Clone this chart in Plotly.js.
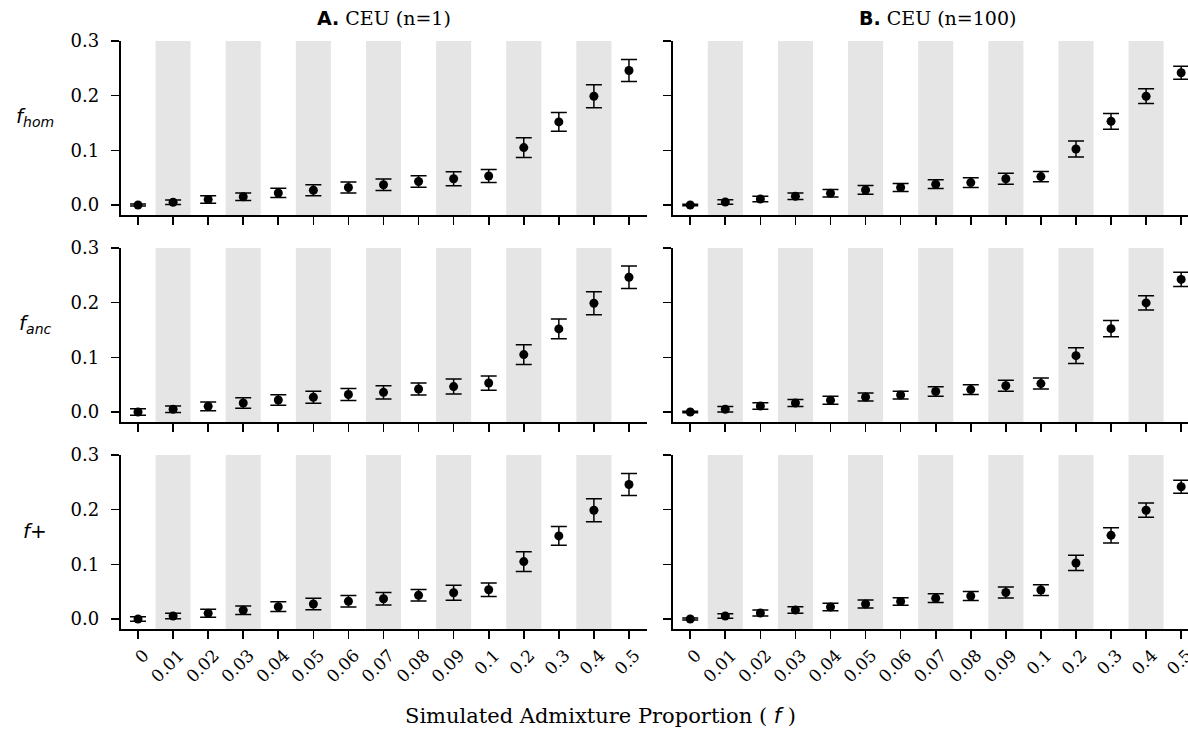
<!DOCTYPE html>
<html>
<head>
<meta charset="utf-8">
<script src="https://cdn.plot.ly/plotly-3.0.1.min.js"></script>
<style>html,body{margin:0;padding:0;background:#fff;}#chart{width:1188px;height:734px;}</style>
</head>
<body>
<div id="chart"></div>
<script>
// ---- data ----
const categories = ['0','0.01','0.02','0.03','0.04','0.05','0.06','0.07','0.08','0.09','0.1','0.2','0.3','0.4','0.5'];
const panelTitles = ['<b style="font-family:DejaVu Sans">A.</b> CEU (n=1)', '<b style="font-family:DejaVu Sans">B.</b> CEU (n=100)'];
const rowLabels = ['<i>f</i><sub><i>hom</i></sub>', '<i>f</i><sub><i>anc</i></sub>', '<i>f</i>+'];
const yTickVals = [0, 0.1, 0.2, 0.3];
const yTickText = ['0.0', '0.1', '0.2', '0.3'];

const A_hom_mean = [0.000,0.005,0.010,0.015,0.022,0.027,0.032,0.037,0.043,0.048,0.053,0.105,0.152,0.199,0.246];
const A_hom_err  = [0.002,0.004,0.007,0.007,0.0085,0.010,0.010,0.0105,0.0105,0.013,0.012,0.018,0.017,0.021,0.020];
const B_hom_mean = [0.000,0.0055,0.011,0.016,0.0215,0.0275,0.032,0.038,0.041,0.048,0.052,0.1025,0.153,0.199,0.242];
const B_hom_err  = [0.0012,0.004,0.005,0.006,0.007,0.008,0.0075,0.008,0.009,0.010,0.0095,0.0145,0.0145,0.0135,0.012];
const A_anc_mean = [0.000,0.005,0.0105,0.0165,0.022,0.027,0.032,0.036,0.042,0.0465,0.053,0.105,0.152,0.199,0.2465];
const A_anc_err  = [0.006,0.006,0.008,0.0095,0.0095,0.011,0.011,0.012,0.011,0.0138,0.013,0.018,0.018,0.021,0.0205];
const B_anc_mean = [0.000,0.005,0.011,0.0165,0.0215,0.0275,0.031,0.0375,0.041,0.048,0.052,0.103,0.1525,0.1995,0.2425];
const B_anc_err  = [0.0015,0.005,0.006,0.0065,0.0074,0.0074,0.007,0.0086,0.009,0.010,0.010,0.0144,0.015,0.013,0.013];
const A_plus_mean = [0.000,0.0055,0.0105,0.016,0.0225,0.0275,0.0325,0.037,0.0435,0.048,0.0535,0.105,0.152,0.199,0.246];
const A_plus_err  = [0.004,0.005,0.0074,0.008,0.009,0.0104,0.0107,0.0113,0.0104,0.0138,0.0123,0.018,0.017,0.021,0.020];
const B_plus_mean = [0.000,0.0055,0.011,0.0165,0.022,0.0275,0.032,0.038,0.042,0.0485,0.053,0.1025,0.153,0.199,0.242];
const B_plus_err  = [0.002,0.004,0.0055,0.006,0.0067,0.0074,0.007,0.008,0.0083,0.010,0.0098,0.014,0.014,0.013,0.012];

const series = [
  [A_hom_mean, A_hom_err, B_hom_mean, B_hom_err],
  [A_anc_mean, A_anc_err, B_anc_mean, B_anc_err],
  [A_plus_mean, A_plus_err, B_plus_mean, B_plus_err]
];

// ---- layout geometry (px) ----
const W = 1188, H = 734;
const colPx = [[120.5, 646.5], [672.7, 1188]];
const rowPx = [[41, 215], [248, 422], [455, 629]];
const pxPerCat = (colPx[0][1] - colPx[0][0]) / categories.length;
const xRanges = [[-0.5, categories.length - 0.5],
                 [-0.5, -0.5 + (colPx[1][1] - colPx[1][0]) / pxPerCat]];
const yRange = [-0.0183, 0.3];

const serif = 'DejaVu Serif, serif';
const sans = 'DejaVu Sans, sans-serif';

const data = [];
const layout = {
  width: W, height: H,
  margin: {l: 0, r: 0, t: 0, b: 0},
  paper_bgcolor: '#fff', plot_bgcolor: 'rgba(0,0,0,0)',
  showlegend: false,
  font: {family: serif, color: '#000'},
  shapes: [], annotations: []
};

for (let r = 0; r < 3; r++) {
  for (let c = 0; c < 2; c++) {
    const k = r * 2 + c + 1;
    const xa = 'x' + (k === 1 ? '' : k), ya = 'y' + (k === 1 ? '' : k);
    const mean = series[r][c * 2], err = series[r][c * 2 + 1];
    data.push({
      type: 'scatter', mode: 'markers', x: categories, y: mean,
      xaxis: xa, yaxis: ya,
      marker: {color: '#000', size: 9},
      error_y: {type: 'data', array: err, visible: true, color: '#000', thickness: 1.5, width: 8},
      cliponaxis: true, hoverinfo: 'skip'
    });
    layout['xaxis' + (k === 1 ? '' : k)] = {
      type: 'category', categoryorder: 'array', categoryarray: categories,
      domain: [colPx[c][0] / W, colPx[c][1] / W], range: xRanges[c],
      anchor: ya, showline: true, linecolor: '#000', linewidth: 1.8,
      ticks: 'outside', ticklen: 8, tickwidth: 1.6, tickcolor: '#000',
      showgrid: false, zeroline: false, fixedrange: true,
      showticklabels: r === 2, tickangle: -45, ticklabelshift: 6,
      tickfont: {family: serif, size: 17, color: '#000'}
    };
    layout['yaxis' + (k === 1 ? '' : k)] = {
      domain: [1 - rowPx[r][1] / H, 1 - rowPx[r][0] / H], range: yRange,
      anchor: xa, showline: true, linecolor: '#000', linewidth: 1.8,
      ticks: 'outside', ticklen: 8, tickwidth: 1.6, tickcolor: '#000',
      tickvals: yTickVals, ticktext: yTickText, ticklabelstandoff: 8,
      showgrid: false, zeroline: false, fixedrange: true,
      showticklabels: c === 0,
      tickfont: {family: serif, size: 18, color: '#000'}
    };
    // alternating grey bands
    for (let i = 0; i < categories.length; i++) {
      if (i % 2 === 1) {
        layout.shapes.push({
          type: 'rect', xref: xa, yref: ya + ' domain',
          x0: i - 0.5, x1: i + 0.5, y0: 0, y1: 1,
          fillcolor: '#e5e5e5', line: {width: 0}, layer: 'below'
        });
      }
    }
  }
  // row labels
  layout.annotations.push({
    text: rowLabels[r], xref: 'paper', yref: 'paper',
    x: 35 / W, y: 1 - (rowPx[r][0] + 76) / H, xanchor: 'center', yanchor: 'middle',
    showarrow: false, font: {family: sans, size: 20, color: '#000'}
  });
}

// panel titles
const titleCenters = [(colPx[0][0] + colPx[0][1]) / 2, 937];
for (let c = 0; c < 2; c++) {
  layout.annotations.push({
    text: panelTitles[c], xref: 'paper', yref: 'paper',
    x: titleCenters[c] / W, y: 1 - 18 / H, xanchor: 'center', yanchor: 'middle',
    showarrow: false, font: {family: serif, size: 19, color: '#000'}
  });
}
// x axis title
layout.annotations.push({
  text: 'Simulated Admixture Proportion ( <i style="font-family:DejaVu Sans">f</i> )',
  xref: 'paper', yref: 'paper', x: 600 / W, y: 1 - 716 / H,
  xanchor: 'center', yanchor: 'middle', showarrow: false,
  font: {family: serif, size: 21, color: '#000'}
});

Plotly.newPlot('chart', data, layout, {staticPlot: true, displayModeBar: false});
</script>
</body>
</html>
